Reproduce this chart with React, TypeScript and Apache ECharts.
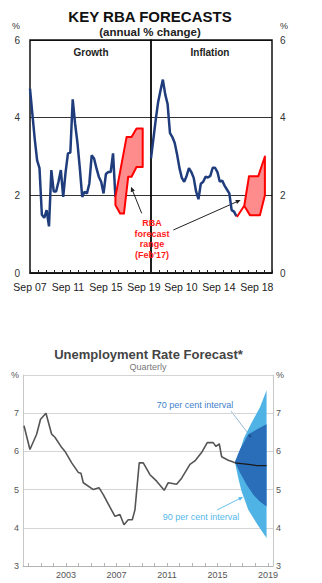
import React, { useEffect, useRef } from 'react';
import * as echarts from 'echarts';

const FONT = '"Liberation Sans", Arial, Helvetica, sans-serif';

// ---------- Top chart data (x = quarters since Sep 2007) ----------
const GROWTH = [4.75, 4.1, 3.45, 2.9, 2.7, 1.5, 1.42, 1.62, 1.2, 2.65, 2.1, 2.1, 2.35, 2.65, 1.96, 2.6, 3.08, 3.1, 4.47, 3.85, 3.35, 2.7, 1.96, 2.09, 2.05, 2.3, 3.03, 2.95, 2.7, 2.48, 2.35, 2.05, 2.55, 2.6, 2.6, 3.08, 1.96];
const INFLATION = [2.95, 3.45, 3.95, 4.4, 4.7, 4.98, 4.6, 4.35, 3.6, 3.5, 3.35, 3.05, 2.7, 2.45, 2.35, 2.5, 2.7, 2.6, 2.45, 2.1, 1.9, 2.3, 2.35, 2.48, 2.46, 2.5, 2.71, 2.71, 2.6, 2.35, 2.38, 2.25, 2.15, 2.05, 1.62, 1.58, 1.46];

const GROWTH_BAND_UPPER = [[36, 1.96], [40.7, 3.5], [42.8, 3.5], [44.9, 3.72], [47.5, 3.72]];
const GROWTH_BAND_LOWER = [[36, 1.75], [38, 1.53], [39.6, 1.53], [41.4, 2.48], [42.8, 2.48], [44.9, 2.73], [47.5, 2.73]];
const INFL_BAND_UPPER = [[36.4, 1.46], [39.3, 1.73], [41.3, 2.49], [45.2, 2.49], [48, 3.0]];
const INFL_BAND_LOWER = [[36.4, 1.46], [39.3, 1.73], [41.7, 1.49], [45.9, 1.49], [48, 2.0]];

const GROWTH_LABEL_Q = [0, 16, 32, 48];
const GROWTH_LABELS = ['Sep 07', 'Sep 11', 'Sep 15', 'Sep 19'];
const INFL_LABEL_Q = [12.6, 28.6, 44.6];
const INFL_LABELS = ['Sep 10', 'Sep 14', 'Sep 18'];
const TOP_TICKS_Q = Array.from({ length: 16 }, (_, i) => i * 3.4);

// ---------- Bottom chart data (x = year) ----------
const UNEMP_YEARS = [1999.67, 2000.14, 2000.67, 2000.98, 2001.41, 2001.86, 2002.12, 2002.66, 2002.92, 2003.45, 2003.97, 2004.18, 2004.37, 2005.16, 2005.61, 2005.95, 2006.48, 2006.88, 2007.27, 2007.59, 2007.93, 2008.25, 2008.46, 2008.8, 2009.12, 2009.65, 2010.18, 2010.78, 2011.1, 2011.76, 2012.16, 2012.82, 2013.21, 2013.74, 2014.19, 2014.66, 2014.88, 2015.14, 2015.33, 2015.85, 2016.25, 2016.38];
const UNEMP_RATES = [6.67, 6.05, 6.45, 6.84, 7.0, 6.45, 6.37, 6.1, 6.0, 5.7, 5.45, 5.43, 5.18, 5.0, 5.05, 4.87, 4.54, 4.3, 4.35, 4.08, 4.21, 4.21, 4.47, 5.7, 5.7, 5.39, 5.22, 4.98, 5.18, 5.14, 5.3, 5.66, 5.75, 5.97, 6.23, 6.23, 6.13, 6.2, 5.86, 5.77, 5.72, 5.7];
const FORECAST_YEARS = [2016.38, 2017.44, 2018.1, 2018.89];
const FORECAST_RATES = [5.7, 5.66, 5.63, 5.63];

const FAN90_UPPER = [[2016.38, 5.72], [2016.75, 6.0], [2017.1, 6.35], [2017.7, 6.75], [2018.36, 7.15], [2018.89, 7.6]];
const FAN90_LOWER = [[2016.38, 5.72], [2016.65, 5.3], [2016.91, 4.96], [2017.44, 4.47], [2018.1, 4.12], [2018.63, 3.86], [2018.89, 3.73]];
const FAN70_UPPER = [[2016.38, 5.72], [2016.78, 6.05], [2017.44, 6.45], [2018.36, 6.62], [2018.89, 6.71]];
const FAN70_LOWER = [[2016.38, 5.72], [2016.78, 5.45], [2017.31, 5.13], [2017.83, 4.87], [2018.36, 4.69], [2018.89, 4.56]];

const BOTTOM_LABEL_YEARS = [2003, 2007, 2011, 2015, 2019];
const BOTTOM_TICK_YEARS = Array.from({ length: 20 }, (_, i) => 2000 + i);

function arrowHead(x1: number, y1: number, x2: number, y2: number, len = 5, half = 2) {
  const dx = x2 - x1, dy = y2 - y1;
  const L = Math.hypot(dx, dy);
  const ux = dx / L, uy = dy / L;
  const bx = x2 - ux * len, by = y2 - uy * len;
  return [[x2, y2], [bx - uy * half, by + ux * half], [bx + uy * half, by - ux * half]];
}

function polySeries(upper: number[][], lower: number[][], xi: number, yi: number, style: any, z: number) {
  const pts = upper.concat(lower.slice().reverse());
  return {
    type: 'custom',
    xAxisIndex: xi,
    yAxisIndex: yi,
    silent: true,
    z,
    data: [pts[0]],
    renderItem: (_p: any, api: any) => ({
      type: 'polygon',
      shape: { points: pts.map((p) => api.coord(p)) },
      style,
    }),
  };
}

function txt(text: string, x: number, y: number, font: string, fill: string, align = 'center', extra: any = {}) {
  return {
    type: 'text',
    x,
    y,
    silent: true,
    style: { text, font, fill, textAlign: align, textVerticalAlign: 'middle', ...extra },
  };
}

export default function App() {
  const ref = useRef<HTMLDivElement>(null);

  useEffect(() => {
    if (!ref.current) return;
    const chart = echarts.init(ref.current, undefined, { renderer: 'svg' });

    const topYAxisBase = {
      type: 'value',
      min: 0,
      max: 6,
      interval: 2,
      axisLine: { show: false },
      axisTick: { show: false },
      splitLine: { show: true, lineStyle: { color: '#000', width: 0.8 } },
      axisLabel: { fontFamily: FONT, fontSize: 10, color: '#333' },
    };
    const topXAxisBase = {
      type: 'value',
      min: 0,
      max: 51,
      axisLine: { show: true, lineStyle: { color: '#111', width: 1.5 } },
      splitLine: { show: false },
      axisTick: {
        show: true,
        inside: true,
        length: 3,
        customValues: TOP_TICKS_Q,
        lineStyle: { color: '#222', width: 1 },
      },
    };

    const bottomYAxisBase = {
      type: 'value',
      min: 3,
      max: 8,
      interval: 1,
      axisLine: { show: true, lineStyle: { color: '#c8c8c8', width: 1 } },
      axisTick: { show: false },
      axisLabel: {
        fontFamily: FONT,
        fontSize: 9,
        color: '#555',
        formatter: (v: number) => (v === 8 ? '%' : String(v)),
      },
    };

    const option: any = {
      animation: false,
      backgroundColor: '#fff',
      grid: [
        { left: 30, top: 40, width: 121, height: 233, show: true, borderColor: '#111', borderWidth: 1.5, backgroundColor: 'transparent' },
        { left: 151, top: 40, width: 121, height: 233, show: true, borderColor: '#111', borderWidth: 1.5, backgroundColor: 'transparent' },
        { left: 23, top: 375, width: 250, height: 191 },
      ],
      xAxis: [
        {
          ...topXAxisBase,
          gridIndex: 0,
          axisLabel: {
            fontFamily: FONT,
            fontSize: 10.5,
            color: '#222',
            margin: 8,
            customValues: GROWTH_LABEL_Q,
            formatter: (v: number) => {
              const i = GROWTH_LABEL_Q.findIndex((q) => Math.abs(q - v) < 0.01);
              return i >= 0 ? GROWTH_LABELS[i] : '';
            },
          },
        },
        {
          ...topXAxisBase,
          gridIndex: 1,
          axisLabel: {
            fontFamily: FONT,
            fontSize: 10.5,
            color: '#222',
            margin: 8,
            customValues: INFL_LABEL_Q,
            formatter: (v: number) => {
              const i = INFL_LABEL_Q.findIndex((q) => Math.abs(q - v) < 0.01);
              return i >= 0 ? INFL_LABELS[i] : '';
            },
          },
        },
        {
          type: 'value',
          gridIndex: 2,
          min: 1999.59,
          max: 2019.4,
          axisLine: { show: true, lineStyle: { color: '#b5b5b5', width: 1 } },
          splitLine: { show: false },
          axisTick: {
            show: true,
            inside: true,
            length: 3,
            customValues: BOTTOM_TICK_YEARS,
            lineStyle: { color: '#b5b5b5', width: 1 },
          },
          axisLabel: {
            fontFamily: FONT,
            fontSize: 9,
            color: '#555',
            margin: 4,
            customValues: BOTTOM_LABEL_YEARS,
            formatter: (v: number) => String(Math.round(v)),
          },
        },
      ],
      yAxis: [
        { ...topYAxisBase, gridIndex: 0, position: 'left', axisLabel: { ...topYAxisBase.axisLabel, margin: 10 } },
        { ...topYAxisBase, gridIndex: 1, position: 'right', axisLabel: { ...topYAxisBase.axisLabel, margin: 8 } },
        {
          ...bottomYAxisBase,
          gridIndex: 2,
          position: 'left',
          splitLine: { show: true, lineStyle: { color: '#d4d4d4', width: 1 } },
          axisLabel: { ...bottomYAxisBase.axisLabel, margin: 4 },
        },
        {
          ...bottomYAxisBase,
          gridIndex: 2,
          position: 'right',
          splitLine: { show: false },
          axisLabel: { ...bottomYAxisBase.axisLabel, margin: 3 },
        },
      ],
      series: [
        {
          type: 'line',
          xAxisIndex: 0,
          yAxisIndex: 0,
          data: GROWTH.map((v, i) => [i, v]),
          symbol: 'none',
          lineStyle: { color: '#1f3d7c', width: 2.5 },
          z: 2,
        },
        polySeries(GROWTH_BAND_UPPER, GROWTH_BAND_LOWER, 0, 0, { fill: '#ff8c8c', stroke: '#ff0000', lineWidth: 2, lineJoin: 'round' }, 3),
        {
          type: 'line',
          xAxisIndex: 1,
          yAxisIndex: 1,
          data: INFLATION.map((v, i) => [i, v]),
          symbol: 'none',
          lineStyle: { color: '#1f3d7c', width: 2.5 },
          z: 2,
        },
        polySeries(INFL_BAND_UPPER, INFL_BAND_LOWER, 1, 1, { fill: '#ff8c8c', stroke: '#ff0000', lineWidth: 2, lineJoin: 'round' }, 3),
        polySeries(FAN90_UPPER, FAN90_LOWER, 2, 2, { fill: '#4fb3e6' }, 2),
        polySeries(FAN70_UPPER, FAN70_LOWER, 2, 2, { fill: '#2a6db8' }, 3),
        {
          type: 'line',
          xAxisIndex: 2,
          yAxisIndex: 2,
          data: UNEMP_YEARS.map((y, i) => [y, UNEMP_RATES[i]]),
          symbol: 'none',
          lineStyle: { color: '#555', width: 1.6 },
          z: 4,
        },
        {
          type: 'line',
          xAxisIndex: 2,
          yAxisIndex: 2,
          data: FORECAST_YEARS.map((y, i) => [y, FORECAST_RATES[i]]),
          symbol: 'none',
          lineStyle: { color: '#1a1a1a', width: 1.2 },
          z: 5,
        },
      ],
      graphic: [
        txt('KEY RBA FORECASTS', 150, 16, `bold 15px ${FONT}`, '#111'),
        txt('(annual % change)', 150, 32, `bold 11.5px ${FONT}`, '#222'),
        txt('%', 16, 26, `9px ${FONT}`, '#333'),
        txt('%', 284, 26, `9px ${FONT}`, '#333'),
        txt('Growth', 91, 52, `bold 10px ${FONT}`, '#222'),
        txt('Inflation', 210, 52, `bold 10px ${FONT}`, '#222'),
        {
          type: 'text',
          x: 152,
          y: 217.5,
          silent: true,
          style: {
            text: "RBA\nforecast\nrange\n(Feb'17)",
            font: `bold 9px ${FONT}`,
            fill: '#ff1a1a',
            textAlign: 'center',
            textVerticalAlign: 'top',
            lineHeight: 10.7,
          },
        },
        { type: 'line', silent: true, shape: { x1: 141.7, y1: 213.3, x2: 132.5, y2: 190.5 }, style: { stroke: '#222', lineWidth: 1 } },
        { type: 'polygon', silent: true, shape: { points: arrowHead(141.7, 213.3, 131, 186.7, 5, 2.2) }, style: { fill: '#222' } },
        { type: 'line', silent: true, shape: { x1: 173.3, y1: 230, x2: 236.5, y2: 201.9 }, style: { stroke: '#222', lineWidth: 1 } },
        { type: 'polygon', silent: true, shape: { points: arrowHead(173.3, 230, 240.7, 200, 5, 2.2) }, style: { fill: '#222' } },

        txt('Unemployment Rate Forecast*', 148.5, 354, `bold 13px ${FONT}`, '#444'),
        txt('Quarterly', 148, 367, `9px ${FONT}`, '#777'),
        txt('70 per cent interval', 195, 405, `9px ${FONT}`, '#3f7fcc'),
        txt('90 per cent interval', 201, 517, `9px ${FONT}`, '#55b8ea'),
        { type: 'line', silent: true, shape: { x1: 231, y1: 411, x2: 250, y2: 436 }, style: { stroke: '#7fa9c9', lineWidth: 0.8 } },
        { type: 'circle', silent: true, z: 10, shape: { cx: 250, cy: 436, r: 1.4 }, style: { fill: '#1d4f8a' } },
        { type: 'line', silent: true, shape: { x1: 217, y1: 510, x2: 239.5, y2: 498.7 }, style: { stroke: '#55b8ea', lineWidth: 0.9 } },
        { type: 'polygon', silent: true, z: 10, shape: { points: arrowHead(217, 510, 243, 497, 4.5, 2) }, style: { fill: '#55b8ea' } },
      ],
    };

    chart.setOption(option);
    return () => chart.dispose();
  }, []);

  return (
    <div
      ref={ref}
      style={{ position: 'fixed', left: 0, top: 0, width: 322, height: 583, background: '#fff' }}
    />
  );
}
